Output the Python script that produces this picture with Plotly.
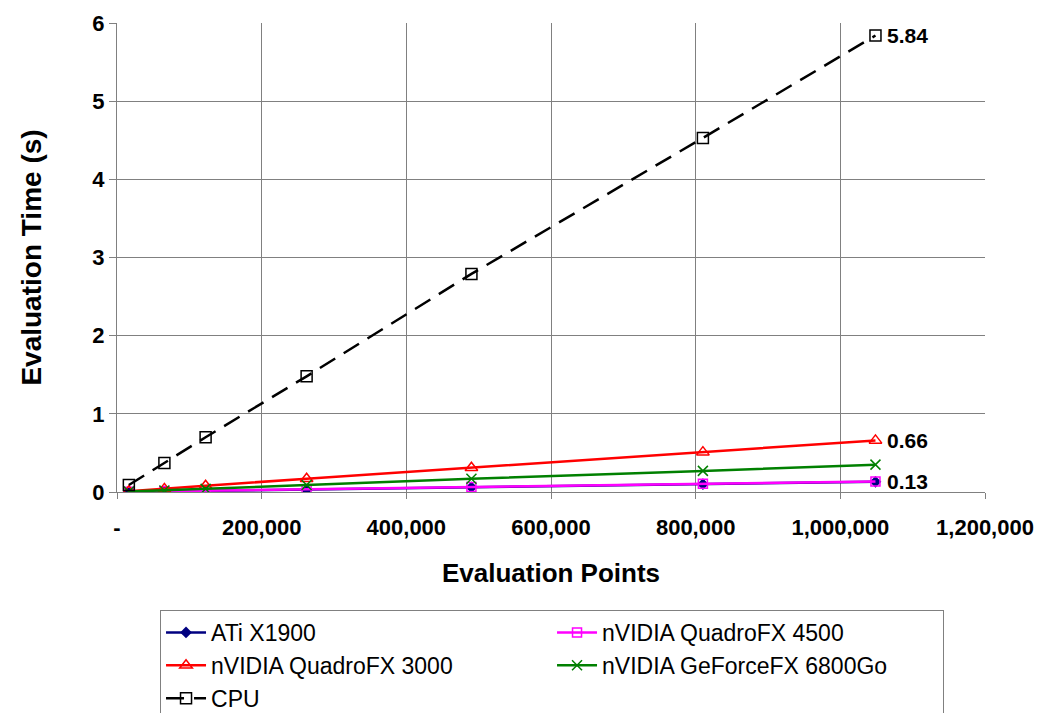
import plotly.graph_objects as go

points = [16384, 65536, 122500, 262144, 490000, 810000, 1048576]
ati = [0.002, 0.008, 0.015, 0.03, 0.06, 0.10, 0.13]
q4500 = [0.003, 0.009, 0.017, 0.035, 0.065, 0.105, 0.135]
q3000 = [0.01, 0.04, 0.08, 0.17, 0.31, 0.51, 0.66]
g6800 = [0.005, 0.02, 0.04, 0.09, 0.17, 0.27, 0.35]
cpu = [0.09, 0.37, 0.70, 1.48, 2.79, 4.53, 5.84]

x_ticks = [0, 200000, 400000, 600000, 800000, 1000000, 1200000]
x_ticktext = ["-", "200,000", "400,000", "600,000", "800,000", "1,000,000", "1,200,000"]

fig = go.Figure()
fig.add_trace(go.Scatter(x=points, y=ati, name="ATi X1900", mode="lines+markers",
                         line=dict(color="#000080", width=2.5),
                         marker=dict(symbol="diamond", size=9, color="#000080")))
fig.add_trace(go.Scatter(x=points, y=q4500, name="nVIDIA QuadroFX 4500", mode="lines+markers",
                         line=dict(color="#FF00FF", width=2.5),
                         marker=dict(symbol="square-open", size=9, color="#FF00FF", line=dict(width=1.5))))
fig.add_trace(go.Scatter(x=points, y=q3000, name="nVIDIA QuadroFX 3000", mode="lines+markers",
                         line=dict(color="#FF0000", width=2.5),
                         marker=dict(symbol="triangle-up-open", size=11, color="#FF0000", line=dict(width=1.5))))
fig.add_trace(go.Scatter(x=points, y=g6800, name="nVIDIA GeForceFX 6800Go", mode="lines+markers",
                         line=dict(color="#008000", width=2.5),
                         marker=dict(symbol="x-thin", size=10, color="#008000", line=dict(width=1.5, color="#008000"))))
fig.add_trace(go.Scatter(x=points, y=cpu, name="CPU", mode="lines+markers",
                         line=dict(color="#000000", width=2.5, dash="18px,10px"),
                         marker=dict(symbol="square-open", size=11, color="#000000", line=dict(width=1.5))))

ann_font = dict(family="Arial", size=21, color="#000000")
for series in (cpu, q3000, ati):
    fig.add_annotation(x=points[-1], y=series[-1], text="<b>%.2f</b>" % series[-1],
                       showarrow=False, xanchor="left", xshift=10, font=ann_font)

fig.update_layout(
    width=1048, height=713,
    margin=dict(l=117, r=63, t=23, b=221),
    paper_bgcolor="white", plot_bgcolor="white",
    font=dict(family="Arial", size=18, color="#000000"),
    showlegend=True,
    legend=dict(orientation="h", xref="container", yref="container",
                x=0.1527, xanchor="left", y=0.1445, yanchor="top",
                bordercolor="#808080", borderwidth=1, bgcolor="white",
                entrywidth=336, entrywidthmode="pixels",
                font=dict(family="Arial", size=23, color="#000000"),
                itemwidth=40, tracegroupgap=0),
)
fig.update_xaxes(range=[0, 1200000], tickvals=x_ticks, ticktext=x_ticktext,
                 showgrid=True, gridcolor="#808080", gridwidth=1,
                 showline=True, linecolor="#808080", linewidth=1,
                 ticks="outside", ticklen=6, tickcolor="#808080", ticklabelstandoff=10,
                 tickfont=dict(family="Arial", size=22, color="#000000", weight="bold"),
                 title=dict(text="<b>Evaluation Points</b>", font=dict(family="Arial", size=26), standoff=24),
                 zeroline=False, mirror=False, automargin=False)
fig.update_yaxes(range=[0, 6], dtick=1,
                 showgrid=True, gridcolor="#808080", gridwidth=1,
                 showline=True, linecolor="#808080", linewidth=1,
                 ticks="outside", ticklen=7, tickcolor="#808080",
                 tickfont=dict(family="Arial", size=22, color="#000000", weight="bold"),
                 title=dict(text="<b>Evaluation Time (s)</b>", font=dict(family="Arial", size=28), standoff=42),
                 zeroline=False, automargin=False)

fig.write_html("out.html", config={"displayModeBar": False},
               post_script="document.body.style.margin='0';")
